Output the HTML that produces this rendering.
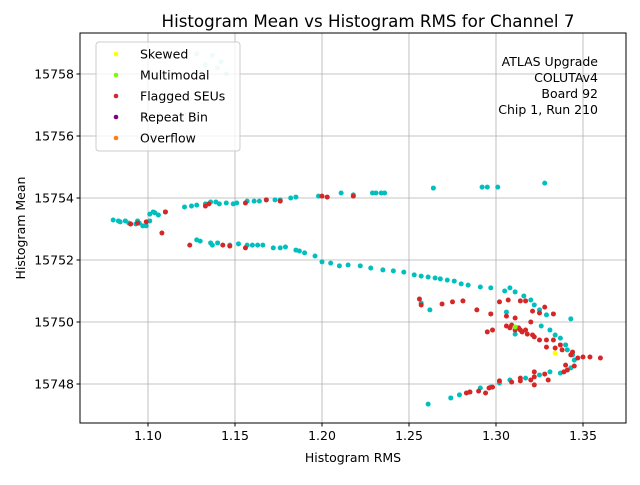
<!DOCTYPE html>
<html><head><meta charset="utf-8"><style>
body{margin:0;background:#fff}
svg text{font-family:"DejaVu Sans","Liberation Sans",sans-serif;fill:#000}
</style></head><body>
<svg id="chart" width="640" height="480">
<rect x="0" y="0" width="640" height="480" fill="#fff"/>
<text x="368" y="27" font-size="16.7" text-anchor="middle">Histogram Mean vs Histogram RMS for Channel 7</text>
<g id="grid"></g>
<g id="pts"></g>
<rect x="80" y="33" width="546" height="390" fill="none" stroke="#000" stroke-width="1"/>
<g id="ticks"></g>
<text x="353" y="462" font-size="12.5" text-anchor="middle">Histogram RMS</text>
<text transform="translate(25,228) rotate(-90)" font-size="12.5" text-anchor="middle">Histogram Mean</text>
<g font-size="12.5" text-anchor="end">
<text x="598" y="66">ATLAS Upgrade</text>
<text x="598" y="82">COLUTAv4</text>
<text x="598" y="98">Board 92</text>
<text x="598" y="114">Chip 1, Run 210</text>
</g>
<g>
<rect x="96" y="42" width="144" height="109" rx="3" fill="#fff" fill-opacity="0.8" stroke="#ccc"/>
<g><circle cx="116" cy="54" r="2.3" fill="#ffff00"/><text x="140" y="58.5" font-size="12.5">Skewed</text></g>
<g><circle cx="116" cy="75" r="2.3" fill="#7cfc00"/><text x="140" y="79.5" font-size="12.5">Multimodal</text></g>
<g><circle cx="116" cy="96" r="2.3" fill="#d62728"/><text x="140" y="100.5" font-size="12.5">Flagged SEUs</text></g>
<g><circle cx="116" cy="117" r="2.3" fill="#800080"/><text x="140" y="121.5" font-size="12.5">Repeat Bin</text></g>
<g><circle cx="116" cy="138" r="2.3" fill="#ff7f0e"/><text x="140" y="142.5" font-size="12.5">Overflow</text></g>
</g>
</svg>
<script>
const xTicks=[1.10,1.15,1.20,1.25,1.30,1.35];
const yTicks=[15748,15750,15752,15754,15756,15758];
const cyanX=[1.080,1.083,1.084,1.087,1.089,1.090,1.093,1.094,1.095,1.097,1.099,1.101,1.101,1.103,1.104,1.106,1.110,1.121,1.125,1.128,1.133,1.136,1.139,1.141,1.145,1.149,1.151,1.157,1.161,1.164,1.168,1.173,1.176,1.182,1.185,1.198,1.211,1.218,1.229,1.231,1.234,1.236,1.264,1.292,1.295,1.301,1.328,
1.128,1.130,1.136,1.137,1.140,1.147,1.152,1.157,1.160,1.163,1.166,1.172,1.176,1.179,1.185,1.187,1.190,1.196,1.200,1.205,1.210,1.215,1.222,1.228,1.235,1.241,1.247,1.253,1.257,1.261,1.265,1.268,1.272,1.276,1.280,1.284,1.291,1.297,1.305,1.311,1.316,1.320,1.322,1.325,1.329,1.331,1.334,1.337,1.340,1.341,1.344,1.345,1.343,1.337,1.331,1.325,1.317,1.308,1.302,1.297,1.291,1.285,1.279,1.274,1.261,1.262,1.257,1.308,1.306,1.311,1.326,1.343];
const cyanY=[15753.29,15753.26,15753.23,15753.26,15753.19,15753.16,15753.16,15753.26,15753.19,15753.10,15753.10,15753.26,15753.48,15753.55,15753.52,15753.45,15753.55,15753.71,15753.74,15753.77,15753.81,15753.87,15753.87,15753.81,15753.84,15753.81,15753.84,15753.90,15753.90,15753.90,15753.94,15753.94,15753.94,15754.00,15754.03,15754.06,15754.16,15754.10,15754.16,15754.16,15754.16,15754.16,15754.32,15754.35,15754.35,15754.35,15754.48,
15752.65,15752.61,15752.55,15752.48,15752.55,15752.48,15752.52,15752.48,15752.48,15752.48,15752.48,15752.39,15752.39,15752.42,15752.32,15752.29,15752.23,15752.13,15751.94,15751.90,15751.81,15751.84,15751.81,15751.74,15751.68,15751.65,15751.61,15751.52,15751.48,15751.45,15751.42,15751.39,15751.35,15751.32,15751.23,15751.19,15751.13,15751.10,15751.00,15750.97,15750.84,15750.71,15750.55,15750.39,15750.23,15749.74,15749.58,15749.48,15749.26,15749.10,15748.94,15748.77,15748.52,15748.35,15748.39,15748.29,15748.19,15748.13,15748.03,15747.90,15747.87,15747.74,15747.65,15747.55,15747.35,15750.39,15750.61,15751.10,15750.32,15749.61,15749.87,15750.10];
const redX=[1.090,1.094,1.099,1.108,1.110,1.133,1.135,1.156,1.168,1.176,1.200,1.203,1.218,1.124,1.143,1.147,1.156,
1.256,1.257,1.269,1.275,1.281,1.289,1.297,1.302,1.307,1.306,1.314,1.317,1.321,1.320,1.328,1.333,1.325,1.311,1.309,1.295,1.298,1.306,1.308,1.311,1.313,1.314,1.315,1.317,1.318,1.321,1.322,1.325,1.329,1.329,1.333,1.334,1.337,1.338,1.343,1.344,1.347,1.350,1.354,1.360,1.340,1.341,1.339,1.345,1.328,1.322,1.320,1.314,1.309,1.302,1.298,1.296,1.294,1.290,1.285,1.283,1.330,1.322,1.314,1.322];
const redY=[15753.16,15753.19,15753.23,15752.87,15753.55,15753.74,15753.81,15753.84,15753.94,15753.90,15754.06,15754.03,15754.06,15752.48,15752.48,15752.45,15752.39,
15750.74,15750.55,15750.58,15750.65,15750.68,15750.39,15750.26,15750.65,15750.71,15750.19,15750.68,15750.68,15750.35,15750.00,15750.48,15750.26,15750.29,15750.13,15749.90,15749.68,15749.74,15749.87,15749.81,15749.74,15749.81,15749.74,15749.68,15749.74,15749.61,15749.58,15749.52,15749.42,15749.42,15749.19,15749.42,15749.16,15749.26,15749.10,15748.94,15749.03,15748.84,15748.87,15748.87,15748.84,15748.61,15748.45,15748.39,15748.58,15748.32,15748.23,15748.13,15748.10,15748.06,15748.10,15747.90,15747.87,15747.71,15747.77,15747.74,15747.71,15748.13,15747.97,15748.19,15748.39];
const skewX=[1.334], skewY=[15749.00];
const multiX=[1.311], multiY=[15749.84];
const faintX=[1.128,1.133,1.140,1.142,1.145,1.137], faintY=[15758.65,15758.30,15758.20,15758.40,15758.00,15758.60];

const X0=80,X1=626,Y0=33,Y1=423;
const xs=v=>148+(v-1.10)*1740;
const ys=v=>384-(v-15748)*31;
const NS='http://www.w3.org/2000/svg';
const g=document.getElementById('grid'),t=document.getElementById('ticks'),p=document.getElementById('pts');
function mk(tag,a,parent){const e=document.createElementNS(NS,tag);for(const k in a)e.setAttribute(k,a[k]);parent.appendChild(e);return e;}
xTicks.forEach(v=>{const x=xs(v);
 const l=mk('line',{x1:x,x2:x,y1:Y0,y2:Y1,stroke:'#b0b0b0','stroke-width':0.8},g);
 
 
 mk('line',{x1:x,x2:x,y1:Y1,y2:Y1+3.5,stroke:'#000'},t);
 const tx=mk('text',{x:x,y:Y1+17,'font-size':12.5,'text-anchor':'middle'},t);tx.textContent=v.toFixed(2);
 
 });
yTicks.forEach(v=>{const y=ys(v);
 const l=mk('line',{x1:X0,x2:X1,y1:y,y2:y,stroke:'#b0b0b0','stroke-width':0.8},g);
 
 
 mk('line',{x1:X0-3.5,x2:X0,y1:y,y2:y,stroke:'#000'},t);
 const tx=mk('text',{x:X0-6,y:y+4.5,'font-size':12.5,'text-anchor':'end'},t);tx.textContent=v;
 
 });
function draw(xa,ya,col,name,op){xa.forEach((v,i)=>{
 const c=mk('circle',{cx:xs(v),cy:ys(ya[i]),r:2.5,fill:col,'fill-opacity':op},p);
 
 });}
draw(faintX,faintY,'#00bfbf','faint-point',0.35);
draw(cyanX,cyanY,'#00bfbf','channel-point',1);
draw(redX,redY,'#d62728','flagged-seu-point',1);
draw(multiX,multiY,'#7cfc00','multimodal-point',1);
draw(skewX,skewY,'#ffff00','skewed-point',1);
</script>
</body></html>
